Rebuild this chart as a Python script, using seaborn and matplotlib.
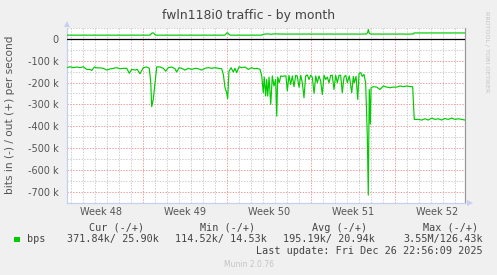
import numpy as np
import pandas as pd
import seaborn as sns
import matplotlib
matplotlib.use("Agg")
import matplotlib.pyplot as plt
from matplotlib.patches import Rectangle, Polygon

# ---------------- data (x: days since Mon Dec 1 2025, y: kbit/s) ----------------
in_days = [
    -6.33, -6.06, -5.78, -5.5, -5.23, -4.95, -4.67, -4.39, -4.25, -4.03,
    -3.83, -3.56, -3.28, -3.0, -2.73, -2.45, -2.17, -1.89, -1.62, -1.33,
    -1.12, -0.92, -0.64, -0.45, -0.23, 0.05, 0.33, 0.55, 0.67, 0.75,
    0.88, 1.03, 1.17, 1.44, 1.72, 1.92, 2.13, 2.42, 2.69, 2.83,
    3.03, 3.25, 3.53, 3.8, 4.08, 4.36, 4.63, 4.92, 5.19, 5.47,
    5.75, 6.03, 6.3, 6.58, 6.72, 6.86, 7.0, 7.08, 7.19, 7.36,
    7.55, 7.69, 7.83, 8.03, 8.25, 8.53, 8.8, 9.08, 9.3, 9.53,
    9.78, 9.92, 10.05, 10.13, 10.25, 10.33, 10.42, 10.53, 10.67, 10.8,
    10.94, 11.08, 11.17, 11.25, 11.38, 11.5, 11.63, 11.78, 11.94, 12.05,
    12.19, 12.33, 12.47, 12.61, 12.75, 12.88, 13.03, 13.17, 13.3, 13.44,
    13.58, 13.72, 13.86, 14.0, 14.13, 14.28, 14.42, 14.55, 14.69, 14.83,
    14.97, 15.11, 15.25, 15.38, 15.53, 15.67, 15.8, 15.94, 16.08, 16.22,
    16.36, 16.5, 16.63, 16.78, 16.92, 17.05, 17.22, 17.42, 17.55, 17.63,
    17.78, 17.92, 18.03, 18.17, 18.3, 18.44, 18.58, 18.72, 18.8, 18.88,
    18.97, 19.03, 19.22, 19.5, 19.78, 20.05, 20.33, 20.61, 20.88, 21.17,
    21.44, 21.72, 22.0, 22.28, 22.5, 22.63, 22.97, 23.25, 23.53, 23.8,
    24.08, 24.36, 24.63, 24.92, 25.19, 25.47, 25.75, 26.03, 26.3, 26.58,
    26.86]
in_vals = [
    -132, -128, -132, -129, -132, -128, -140, -140, -145, -129,
    -133, -133, -135, -143, -138, -135, -132, -137, -135, -135,
    -158, -140, -143, -140, -160, -132, -129, -135, -201, -311,
    -277, -198, -128, -129, -135, -148, -132, -129, -137, -152,
    -132, -135, -143, -135, -140, -135, -137, -143, -135, -132,
    -135, -132, -135, -137, -163, -224, -247, -274, -148, -132,
    -152, -135, -155, -128, -132, -129, -140, -132, -137, -135,
    -140, -170, -247, -175, -262, -186, -262, -175, -300, -170,
    -216, -186, -354, -175, -201, -170, -172, -170, -170, -239,
    -167, -209, -170, -219, -167, -170, -222, -167, -201, -270,
    -170, -165, -186, -167, -175, -250, -170, -201, -170, -193,
    -255, -167, -186, -175, -201, -167, -167, -232, -167, -201,
    -167, -167, -247, -175, -167, -201, -170, -247, -172, -201,
    -172, -277, -158, -155, -172, -163, -201, -450, -716, -232,
    -390, -224, -219, -221, -232, -216, -221, -224, -221, -221,
    -216, -219, -216, -219, -219, -369, -369, -372, -366, -372,
    -363, -369, -366, -372, -365, -369, -363, -369, -366, -369,
    -372]

out_days = [-6.33, 0.6, 0.7, 0.78, 0.9, 1.0, 1.1, 6.85, 6.93, 7.0, 7.1, 7.2, 7.3, 9.9,
            10.05, 10.4, 10.7, 11.0, 11.5, 12.5, 14.0, 16.0, 18.65, 18.75, 18.8, 18.88,
            18.97, 22.55, 22.62, 26.86]
out_vals = [17, 17, 22, 27, 27, 20, 17, 17, 22, 27, 27, 20, 17, 17,
            21, 23, 21, 23, 22, 22, 22, 22, 22, 30, 43, 26,
            22, 22, 27, 27]

week_labels = ["Week 48", "Week 49", "Week 50", "Week 51", "Week 52"]
week_starts = [-7, 0, 7, 14, 21]
y_ticks = [0, -100, -200, -300, -400, -500, -600, -700]

legend_headers = ["Cur (-/+)", "Min (-/+)", "Avg (-/+)", "Max (-/+)"]
legend_values = ["371.84k/ 25.90k", "114.52k/ 14.53k", "195.19k/ 20.94k", "3.55M/126.43k"]
series_name = "bps"
last_update = "Last update: Fri Dec 26 22:56:09 2025"

# ---------------- figure ----------------
W, H = 497, 275
BG = "#f0f0f0"
GREEN = "#00cc00"
sns.set_theme(style="white")
plt.rcParams["font.family"] = ["DejaVu Sans"]

fig = plt.figure(figsize=(W / 100, H / 100), dpi=100, facecolor=BG)
px = lambda x: x / W
py = lambda y: 1 - y / H
L, R, T, B = 67, 465, 27.5, 203
ax = fig.add_axes([px(L), py(B), px(R) - px(L), py(T) - py(B)])
ax.set_facecolor("white")

XMIN, XMAX = -6.31, 26.86
YMIN, YMAX = -752, 52
ax.set_xlim(XMIN, XMAX)
ax.set_ylim(YMIN, YMAX)

# grid
grey_dot = dict(color="#cfcfcf", linestyle=(0, (1.4, 1.4)), linewidth=0.72)
red_dot = dict(color="#eea0a0", linestyle=(0, (1.4, 1.4)), linewidth=0.72)
ax.set_xticks([w for w in week_starts if XMIN < w < XMAX])
ax.set_xticks([d for d in range(-6, 27) if d % 7 != 0], minor=True)
ax.set_yticks(y_ticks)
ax.set_yticks([v for v in range(-750, 51, 50) if v % 100 != 0], minor=True)
ax.grid(True, which="minor", axis="both", **grey_dot)
ax.grid(True, which="major", axis="both", **red_dot)
ax.set_axisbelow(True)

df_in = pd.DataFrame({"day": in_days, "v": in_vals})
df_out = pd.DataFrame({"day": out_days, "v": out_vals})
ax.axhline(0, color="black", linewidth=0.9, zorder=3)
sns.lineplot(data=df_in, x="day", y="v", color=GREEN, linewidth=0.85, ax=ax, zorder=4,
             estimator=None)
sns.lineplot(data=df_out, x="day", y="v", color=GREEN, linewidth=0.85, ax=ax, zorder=4,
             estimator=None)
ax.set_xlabel("")
ax.set_ylabel("")

# spines
ax.spines["top"].set_visible(False)
ax.spines["left"].set_color("#c8d0f0")
ax.spines["bottom"].set_color("#c8d0f0")
ax.spines["right"].set_color("#999999")
for s in ["left", "bottom", "right"]:
    ax.spines[s].set_linewidth(0.9)

# ticks
ax.tick_params(axis="x", which="major", length=3, color="#eea0a0", labelbottom=False,
               direction="out")
ax.tick_params(axis="x", which="minor", length=2, color="#c8c8c8", direction="out")
ax.tick_params(axis="y", which="major", length=3, color="#eea0a0", labelsize=7,
               labelcolor="#555555", pad=3, direction="out")
ax.tick_params(axis="y", which="minor", length=2, color="#c8c8c8", direction="out")
ax.set_yticklabels(["0" if v == 0 else f"{v} k" for v in y_ticks])

for lab, ws in zip(week_labels, week_starts):
    mid = ws + 3.5
    fig.text(px(L + (mid - XMIN) / (XMAX - XMIN) * (R - L)), py(212.3), lab,
             ha="center", va="center", fontsize=7, color="#555555")

# arrows
fig.patches.append(Polygon([[px(L - 3), py(27)], [px(L + 3), py(27)], [px(L), py(21)]],
                           closed=True, transform=fig.transFigure, facecolor="#c8d0f0",
                           edgecolor="none"))
fig.patches.append(Polygon([[px(R + 2), py(200)], [px(R + 2), py(206)], [px(R + 8), py(203)]],
                           closed=True, transform=fig.transFigure, facecolor="#c8d0f0",
                           edgecolor="none"))

# texts
fig.text(0.5, py(16), "fwln118i0 traffic - by month", ha="center", va="center",
         fontsize=8.9, color="#444444")
fig.text(px(10), py(115), "bits in (-) / out (+) per second", rotation=90,
         ha="center", va="center", fontsize=7.6, color="#555555")
fig.text(px(487), py(52), "RRDTOOL / TOBI OETIKER", rotation=270, ha="center",
         va="center", fontsize=4.6, color="#c4c4c4")

mono = dict(family="DejaVu Sans Mono", fontsize=7.3, color="#444444")
hdr_x = [89.3, 200, 312, 423]
val_x = [66.7, 175, 283, 403]
for h, x in zip(legend_headers, hdr_x):
    fig.text(px(x), py(227.7), h, ha="left", va="center", **mono)
for v, x in zip(legend_values, val_x):
    fig.text(px(x), py(239.3), v, ha="left", va="center", **mono)
fig.patches.append(Rectangle((px(14), py(242.3)), px(6), 5.6 / H, transform=fig.transFigure,
                             facecolor=GREEN, edgecolor="none"))
fig.text(px(27), py(239.3), series_name, ha="left", va="center", **mono)
fig.text(px(483), py(250.7), last_update, ha="right", va="center", **mono)
fig.text(0.5, py(264.3), "Munin 2.0.76", ha="center", va="center", fontsize=5.5,
         color="#c4c4c4")

fig.savefig("out.png", dpi=100, facecolor=BG)
